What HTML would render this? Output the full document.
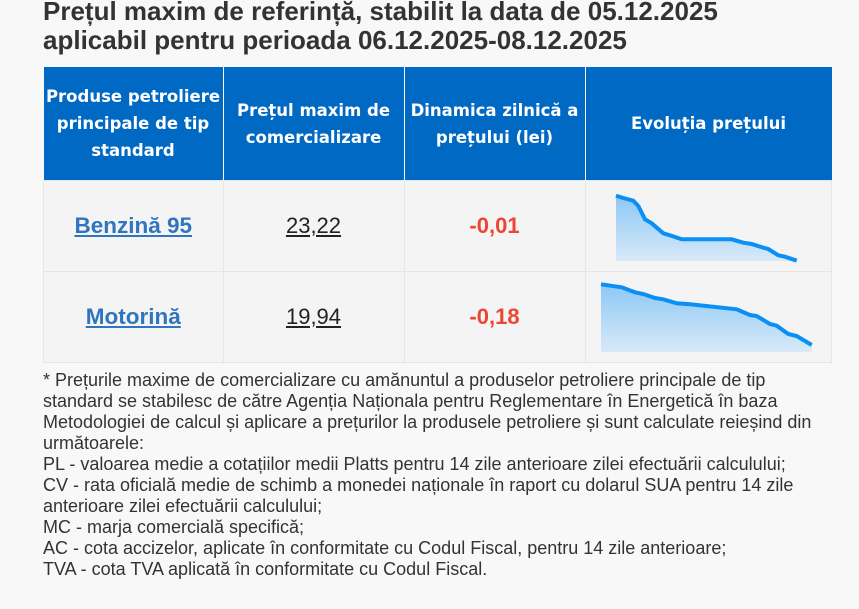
<!DOCTYPE html>
<html><head><meta charset="utf-8"><style>
body{margin:0;width:859px;height:609px;background:#f8f8f8;font-family:"Liberation Sans",sans-serif;overflow:hidden;position:relative}
h1{position:absolute;left:43px;top:-3px;margin:0;font-size:26px;line-height:29px;color:#333;font-weight:bold;width:830px;white-space:nowrap}
table{position:absolute;left:43px;top:67px;border-collapse:collapse;width:789px}
th{background:#0069c4;color:#fff;font-family:"DejaVu Sans",sans-serif;font-weight:bold;font-size:16.5px;line-height:27px;height:113px;padding:0;border-left:1px solid #fff;text-align:center}
th:first-child{border-left:none}
td{background:#f4f4f4;border:1px solid #e6e6e6;text-align:center;padding:0;font-size:22px}
tr.r1 td{height:90px}tr.r2 td{height:90px}
a{color:#2f75c0;font-weight:bold;text-decoration:underline;font-size:22.5px}
.p{color:#222;text-decoration:underline}
.d{color:#ee4433;font-weight:bold}
.note{position:absolute;left:43px;top:370px;width:778px;font-size:18px;line-height:21px;color:#333}
svg{position:absolute;left:0;top:0}
</style></head><body>
<h1>Prețul maxim de referință, stabilit la data de 05.12.2025<br>aplicabil pentru perioada 06.12.2025-08.12.2025</h1>
<table>
<tr><th style="width:179px">Produse petroliere principale de tip standard</th><th style="width:180px">Prețul maxim de comercializare</th><th style="width:180px">Dinamica zilnică a prețului (lei)</th><th>Evoluția prețului</th></tr>
<tr class="r1"><td><a>Benzină 95</a></td><td class="p">23,22</td><td class="d">-0,01</td><td></td></tr>
<tr class="r2"><td><a>Motorină</a></td><td class="p">19,94</td><td class="d">-0,18</td><td></td></tr>
</table>
<svg width="859" height="609">
<defs><linearGradient id="g" x1="0" y1="0" x2="0" y2="1"><stop offset="0" stop-color="#8cc8f5"/><stop offset="1" stop-color="#d8e9f8"/></linearGradient></defs>
<polygon fill="url(#g)" points="616,195.7 623.3,198 633.3,200.7 638.3,206 645,219.3 651.7,223.3 663.3,233.3 670,235.3 681.7,239.3 731.7,239.3 743.3,242.7 751.7,244 763.3,247.7 768.3,249 778.3,255.3 785,256.7 796.7,260.7 796.7,261 616,261"/>
<polyline fill="none" stroke="#0a90f5" stroke-width="4" points="616,195.7 623.3,198 633.3,200.7 638.3,206 645,219.3 651.7,223.3 663.3,233.3 670,235.3 681.7,239.3 731.7,239.3 743.3,242.7 751.7,244 763.3,247.7 768.3,249 778.3,255.3 785,256.7 796.7,260.7"/>
<polygon fill="url(#g)" points="601,284.3 621.7,287.3 635,292.3 643.3,294 655,298 663.3,299.3 676.7,303.3 690,304.3 736.7,309.3 750,315 756.7,316 770,324 776.7,325.7 788.3,334 796.7,336 811.7,345 811.7,352 601,352"/>
<polyline fill="none" stroke="#0a90f5" stroke-width="4" points="601,284.3 621.7,287.3 635,292.3 643.3,294 655,298 663.3,299.3 676.7,303.3 690,304.3 736.7,309.3 750,315 756.7,316 770,324 776.7,325.7 788.3,334 796.7,336 811.7,345"/>
</svg>
<div class="note">* Prețurile maxime de comercializare cu amănuntul a produselor petroliere principale de tip standard se stabilesc de către Agenția Naționala pentru Reglementare în Energetică în baza Metodologiei de calcul și aplicare a prețurilor la produsele petroliere și sunt calculate reieșind din următoarele:<br>PL - valoarea medie a cotațiilor medii Platts pentru 14 zile anterioare zilei efectuării calculului;<br>CV - rata oficială medie de schimb a monedei naționale în raport cu dolarul SUA pentru 14 zile anterioare zilei efectuării calculului;<br>MC - marja comercială specifică;<br>AC - cota accizelor, aplicate în conformitate cu Codul Fiscal, pentru 14 zile anterioare;<br>TVA - cota TVA aplicată în conformitate cu Codul Fiscal.</div>
</body></html>
